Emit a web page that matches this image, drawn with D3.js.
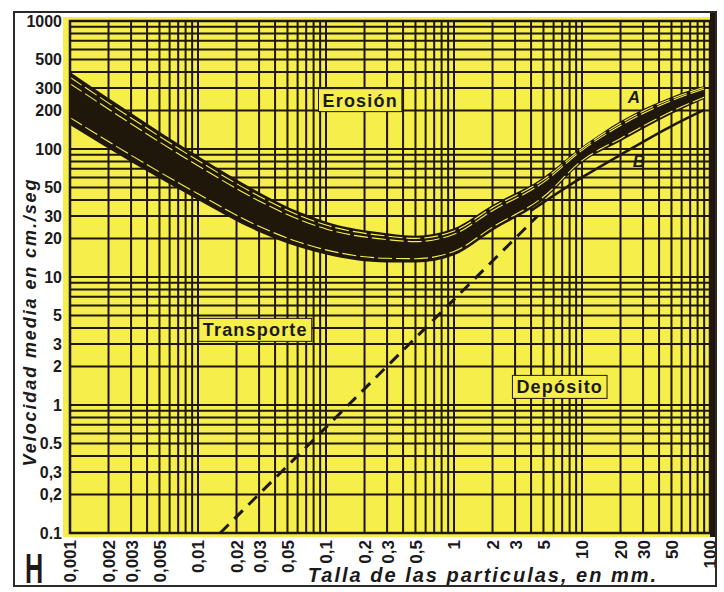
<!DOCTYPE html>
<html>
<head>
<meta charset="utf-8">
<script src="https://cdn.jsdelivr.net/npm/d3@7"></script>
<style>
body { margin: 0; background: #fff; }
</style>
</head>
<body>
<div id="chart"></div>
<script>
// tick labels as printed
const xTicks = [0.001, 0.002, 0.003, 0.005, 0.01, 0.02, 0.03, 0.05, 0.1, 0.2, 0.3, 0.5, 1, 2, 3, 5, 10, 20, 30, 50, 100];
const xTickLabels = ["0,001", "0,002", "0,003", "0,005", "0,01", "0,02", "0,03", "0,05", "0,1", "0,2", "0,3", "0,5", "1", "2", "3", "5", "10", "20", "30", "50", "100"];
const yTicks = [1000, 500, 300, 200, 100, 50, 30, 20, 10, 5, 3, 2, 1, 0.5, 0.3, 0.2, 0.1];
const yTickLabels = ["1000", "500", "300", "200", "100", "50", "30", "20", "10", "5", "3", "2", "1", "0.5", "0,3", "0,2", "0.1"];

// curve A (erosion band): upper and lower edge, mm -> cm/s
const bandSizes = [0.001, 0.003, 0.01, 0.03, 0.063, 0.1, 0.3, 0.5, 1, 2, 5, 10, 20, 50, 90];
const bandTop = [400, 191, 88, 46, 32, 27, 22, 21, 24, 36.5, 60, 104, 165, 255, 310];
const bandBottom = [154, 79, 40, 22.5, 17, 15, 13, 13, 14.8, 23, 40, 78, 115, 188, 246];

// curve B
const bSizes = [4, 10, 20, 50, 90];
const bValues = [33, 60, 90, 151, 202];

// dashed deposition limit
const dashSizes = [0.0149, 4.5];
const dashValues = [0.1, 30];

const width = 724, height = 592;
const ink = "#1f1709";
const yellow = "#f6ee4a";

const svg = d3.select("#chart").append("svg")
    .attr("width", width)
    .attr("height", height)
    .style("font-family", "'Liberation Sans', Arial, sans-serif");

const x = d3.scaleLog().domain([0.001, 100]).range([70, 710]);
const y = d3.scaleLog().domain([0.1, 1000]).range([533, 21]);

// yellow paper
svg.append("rect")
    .attr("x", 63).attr("y", 17)
    .attr("width", 649).attr("height", 520)
    .attr("fill", yellow);

// log grid
const grid = svg.append("g").attr("stroke", ink).attr("stroke-width", 2);
grid.selectAll("line.v")
    .data(x.ticks())
    .join("line")
    .attr("class", "v")
    .attr("x1", d => x(d)).attr("x2", d => x(d))
    .attr("y1", y(1000)).attr("y2", y(0.1));
grid.selectAll("line.h")
    .data(y.ticks())
    .join("line")
    .attr("class", "h")
    .attr("x1", x(0.001)).attr("x2", x(100))
    .attr("y1", d => y(d)).attr("y2", d => y(d));

// band A
const band = bandSizes.map((s, i) => ({ s: s, top: bandTop[i], bot: bandBottom[i] }));
const area = d3.area()
    .x(d => x(d.s))
    .y0(d => y(d.bot))
    .y1(d => y(d.top))
    .curve(d3.curveMonotoneX);
svg.append("path")
    .datum(band)
    .attr("d", area)
    .attr("fill", ink);

// the yellow gaps between the lines of the band
const inner = f => d3.line()
    .x(d => x(d.s))
    .y(d => y(Math.pow(d.top, 1 - f) * Math.pow(d.bot, f)))
    .curve(d3.curveMonotoneX);
[0.1, 0.22, 0.86].forEach(f => {
    svg.append("path")
        .datum(band)
        .attr("d", inner(f))
        .attr("fill", "none")
        .attr("stroke", yellow)
        .attr("stroke-width", 1.1)
        .attr("stroke-dasharray", "14 4");
});

const line = d3.line()
    .x(d => x(d[0]))
    .y(d => y(d[1]))
    .curve(d3.curveMonotoneX);

svg.append("path")
    .datum(d3.zip(bSizes, bValues))
    .attr("d", line)
    .attr("fill", "none")
    .attr("stroke", ink)
    .attr("stroke-width", 2.5);

svg.append("path")
    .datum(d3.zip(dashSizes, dashValues))
    .attr("d", line)
    .attr("fill", "none")
    .attr("stroke", ink)
    .attr("stroke-width", 3)
    .attr("stroke-dasharray", "12 8");

// plot frame, right side heavier
svg.append("rect")
    .attr("x", 70).attr("y", 21)
    .attr("width", 640).attr("height", 512)
    .attr("fill", "none")
    .attr("stroke", ink)
    .attr("stroke-width", 2.5);
svg.append("line")
    .attr("x1", 713).attr("x2", 713)
    .attr("y1", 13).attr("y2", 537)
    .attr("stroke", ink)
    .attr("stroke-width", 6);

// region labels in little boxes
const labels = [
    { text: "Erosión", s: 0.185, v: 240 },
    { text: "Transporte", s: 0.028, v: 3.85 },
    { text: "Depósito", s: 6.7, v: 1.38 }
];
labels.forEach(l => {
    const g = svg.append("g");
    const t = g.append("text")
        .attr("x", x(l.s)).attr("y", y(l.v))
        .attr("text-anchor", "middle")
        .attr("dy", "0.35em")
        .attr("font-size", 18)
        .attr("font-weight", "bold")
        .attr("letter-spacing", 1.2)
        .attr("fill", "#1a1a1a")
        .text(l.text);
    const bb = t.node().getBBox();
    g.insert("rect", "text")
        .attr("x", bb.x - 4).attr("y", bb.y - 2)
        .attr("width", bb.width + 8).attr("height", bb.height + 3)
        .attr("fill", yellow)
        .attr("stroke", ink)
        .attr("stroke-width", 1);
});

svg.append("text")
    .attr("x", 634).attr("y", 97)
    .attr("text-anchor", "middle").attr("dy", "0.35em")
    .attr("font-size", 17).attr("font-weight", "bold").attr("font-style", "italic")
    .attr("fill", "#1a1a1a")
    .text("A");
svg.append("text")
    .attr("x", 639).attr("y", 161)
    .attr("text-anchor", "middle").attr("dy", "0.35em")
    .attr("font-size", 17).attr("font-weight", "bold").attr("font-style", "italic")
    .attr("fill", "#1a1a1a")
    .text("B");

// axes
const yAxis = svg.append("g")
    .attr("transform", "translate(70,0)")
    .call(d3.axisLeft(y).tickValues(yTicks).tickSize(0).tickPadding(8)
        .tickFormat((d, i) => yTickLabels[i]));
yAxis.select(".domain").remove();
yAxis.selectAll("text")
    .attr("font-size", 16)
    .attr("font-weight", "bold")
    .attr("font-family", "'Liberation Sans', Arial, sans-serif")
    .attr("fill", "#1a1a1a");

const xAxis = svg.append("g")
    .attr("transform", "translate(0,533)")
    .call(d3.axisBottom(x).tickValues(xTicks).tickSize(0)
        .tickFormat((d, i) => xTickLabels[i]));
xAxis.select(".domain").remove();
xAxis.selectAll("text")
    .attr("transform", "rotate(-90)")
    .attr("x", -7)
    .attr("y", 0)
    .attr("dy", "0.35em")
    .attr("text-anchor", "end")
    .attr("font-size", 17)
    .attr("font-weight", "bold")
    .attr("font-family", "'Liberation Sans', Arial, sans-serif")
    .attr("fill", "#1a1a1a");

// axis titles
svg.append("text")
    .attr("transform", "translate(30,322) rotate(-90)")
    .attr("text-anchor", "middle")
    .attr("dy", "0.35em")
    .attr("font-size", 18)
    .attr("font-weight", "bold")
    .attr("font-style", "italic")
    .attr("letter-spacing", 1.9)
    .attr("fill", "#1a1a1a")
    .text("Velocidad media en cm./seg");

svg.append("text")
    .attr("x", 483).attr("y", 582)
    .attr("text-anchor", "middle")
    .attr("font-size", 20)
    .attr("font-weight", "bold")
    .attr("font-style", "italic")
    .attr("letter-spacing", 2)
    .attr("fill", "#1a1a1a")
    .text("Talla de las particulas, en mm.");

svg.append("text")
    .attr("transform", "translate(34,583) scale(0.6,1)")
    .attr("text-anchor", "middle")
    .attr("font-size", 42)
    .attr("font-weight", "bold")
    .attr("fill", "#1a1a1a")
    .text("H");

// outer border of the figure
svg.append("rect")
    .attr("x", 14).attr("y", 12)
    .attr("width", 702).attr("height", 574)
    .attr("fill", "none")
    .attr("stroke", "#2a2a2a")
    .attr("stroke-width", 2);
</script>
</body>
</html>
